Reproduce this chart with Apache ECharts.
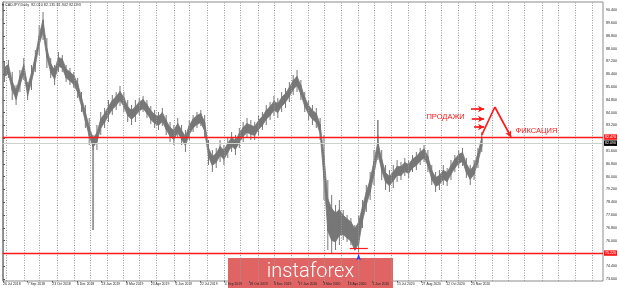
<!DOCTYPE html>
<html><head><meta charset="utf-8">
<script src="https://cdn.jsdelivr.net/npm/echarts@6/dist/echarts.min.js"></script>
<style>html,body{margin:0;padding:0;background:#fff}#c{width:620px;height:288px}</style>
</head><body><div id="c"></div>
<script>
// Typical daily high/low band of CADJPY around each week (week i = trading-day index 5i..5i+4)
const weekHigh = [86.82,87.00,85.95,85.39,86.26,87.00,85.63,86.48,87.51,88.82,
89.80,88.01,87.07,86.64,87.45,87.35,86.73,86.54,86.32,85.82,
84.95,84.04,83.10,82.41,82.73,83.60,83.95,84.38,84.76,85.01,
85.32,84.95,84.38,84.14,84.38,84.66,84.82,84.51,84.13,83.88,
83.76,84.01,83.51,83.07,82.89,83.32,82.89,82.51,83.20,83.60,
83.82,83.94,83.41,81.79,81.26,81.45,81.88,81.64,82.07,82.45,
82.26,82.70,83.07,83.32,83.20,83.13,83.51,83.76,84.14,84.38,
84.70,84.57,84.95,85.20,85.57,86.01,86.26,85.70,84.95,84.45,
84.14,83.95,83.26,81.27,78.60,78.01,77.72,77.94,77.58,77.36,
77.17,76.75,77.15,78.12,79.04,79.82,80.97,82.17,81.08,80.25,
80.01,80.29,80.63,80.63,80.88,80.76,81.10,81.26,81.54,81.73,
81.26,80.39,79.95,80.07,80.39,80.26,80.70,81.10,81.38,81.51,
80.82,80.39,80.70,81.45,82.45];
const weekLow = [86.26,86.45,85.39,84.83,85.70,86.45,85.07,85.92,86.95,88.26,
89.03,87.45,86.51,86.08,86.89,86.79,86.17,85.98,85.76,85.26,
84.39,83.48,82.54,81.85,82.17,83.04,83.39,83.82,84.20,84.45,
84.76,84.39,83.82,83.58,83.82,84.10,84.26,83.95,83.57,83.32,
83.20,83.45,82.95,82.51,82.33,82.76,82.33,81.95,82.64,83.04,
83.26,83.38,82.85,81.23,80.70,80.89,81.32,81.08,81.51,81.89,
81.70,82.14,82.51,82.76,82.64,82.57,82.95,83.20,83.58,83.82,
84.14,84.01,84.39,84.64,85.01,85.45,85.70,85.14,84.39,83.89,
83.58,83.39,82.70,79.87,76.60,76.01,75.92,76.34,76.38,76.16,
75.97,75.40,75.80,77.22,78.24,79.02,80.17,81.47,80.38,79.65,
79.44,79.73,80.07,80.07,80.32,80.20,80.54,80.70,80.98,81.17,
80.70,79.83,79.39,79.51,79.83,79.70,80.14,80.54,80.82,80.95,
80.26,79.83,80.14,80.89,81.89];
// Weekly extreme high / low (wick envelope)
const weekMax = [87.16,87.29,86.54,85.73,86.66,87.41,85.91,86.98,87.91,89.48,
90.29,88.66,87.41,86.98,87.79,87.60,86.98,86.79,86.54,86.16,
85.29,84.48,83.66,82.60,83.23,84.04,84.29,84.79,85.10,85.29,
85.66,85.29,84.79,84.48,84.79,84.91,85.04,84.79,84.41,84.16,
84.04,84.29,83.85,83.41,83.23,83.66,83.23,82.91,83.54,83.85,
84.04,84.16,83.85,82.29,81.66,81.79,82.29,81.98,82.41,82.79,
82.60,83.04,83.41,83.66,83.54,83.41,83.85,84.04,84.48,84.66,
85.04,84.91,85.29,85.54,85.91,86.35,86.66,86.04,85.29,84.79,
84.48,84.29,83.66,82.60,79.79,78.85,78.23,78.54,77.91,77.60,
77.41,76.98,77.60,78.54,79.48,80.29,81.66,82.60,81.66,80.73,
80.41,80.73,81.04,80.91,81.16,81.04,81.35,81.54,81.79,81.98,
81.66,80.73,80.29,80.41,80.73,80.54,81.04,81.35,81.66,81.79,
81.16,80.73,81.04,81.79,82.79];
const weekMin = [85.91,86.16,84.79,84.48,85.29,86.04,84.79,85.41,86.54,87.60,
88.54,86.79,86.16,85.73,86.54,86.54,85.91,85.73,85.54,84.91,
84.04,83.04,81.98,81.66,81.66,82.60,83.04,83.41,83.85,84.16,
84.41,84.04,83.41,83.23,83.41,83.85,84.04,83.66,83.29,83.04,
82.91,83.16,82.60,82.16,81.98,82.41,81.98,81.54,82.29,82.79,
83.04,83.16,82.41,80.73,80.29,80.54,80.91,80.73,81.16,81.54,
81.35,81.79,82.16,82.41,82.29,82.29,82.60,82.91,83.23,83.54,
83.79,83.66,84.04,84.29,84.66,85.10,85.29,84.79,84.04,83.54,
83.23,83.04,82.29,78.54,75.41,75.16,75.41,75.73,76.04,75.91,
75.73,75.41,75.29,76.79,77.79,78.54,79.48,81.04,79.79,79.16,
79.04,79.29,79.66,79.79,80.04,79.91,80.29,80.41,80.73,80.91,
80.29,79.48,79.04,79.16,79.48,79.41,79.79,80.29,80.54,80.66,
79.91,79.48,79.79,80.54,81.54];
// single-day needles: [week, low, high]
const spikes = [[23, 76.66, 82.41], [97, 81.47, 83.54]];

const yTickValues = [73.6,74.4,75.2,76.0,76.8,77.6,78.4,79.2,80.0,80.8,81.6,82.4,
83.2,84.0,84.8,85.6,86.4,87.2,88.0,88.8,89.6,90.4];
const xTickIdx = [0,32,64,96,128,160,192,224,256,288,320,352,384,416,448,480,512,544,576,608];
const xTickLabels = ['26 Jul 2018','7 Sep 2018','23 Oct 2018','6 Dec 2018','23 Jan 2019','8 Mar 2019',
'23 Apr 2019','6 Jun 2019','22 Jul 2019','4 Sep 2019','18 Oct 2019','3 Dec 2019','17 Jan 2020',
'3 Mar 2020','16 Apr 2020','1 Jun 2020','15 Jul 2020','27 Aug 2020','12 Oct 2020','25 Nov 2020'];
const monthStarts = [4,27,47,70,92,113,136,156,177,199,222,242,265,287,308,331,352,374,397,417,
439,461,482,504,527,548,570,592,613,636,657,677,700,722,743,765];

const levelUpper = 82.475, levelLower = 75.225, lastPrice = 82.093;
const titleText = '\u25BE CADJPY,Daily  82.010 82.135 81.942 82.093';

const F = '"Liberation Sans", Arial, sans-serif';
const RED = '#ff1a1a';
const BAND = '#777777';
const chart = echarts.init(document.getElementById('c'), null, {renderer:'canvas'});

const bandData = weekHigh.map((h, i) => {
  const n = Math.min(i + 1, weekHigh.length - 1);
  return [5 * i + 2, weekLow[i], h, 5 * n + 2, weekLow[n], weekHigh[n]];
});
const wickData = weekMax.map((h, i) => [5 * i + 2, weekMin[i], h]);
const spikeData = spikes.map(s => [5 * s[0] + 2, s[1], s[2]]);

function vline(width) {
  return (params, api) => {
    const x = api.value(0);
    const p1 = api.coord([x, api.value(2)]), p2 = api.coord([x, api.value(1)]);
    return {type:'rect', shape:{x:p1[0] - width / 2, y:p1[1], width:width, height:p2[1] - p1[1]}, style:{fill:BAND}};
  };
}

function boxLabel(bg) {
  return {show:true, position:'end', distance:1, formatter: p => Number(p.value).toFixed(3),
    backgroundColor:bg, color:'#fff', fontSize:3.6, padding:[1,1,0.5,1], fontFamily:F};
}

chart.setOption({
  animation:false,
  textStyle:{fontFamily:F},
  grid:{left:0, right:15, top:2, bottom:7, show:true, borderColor:'#8c8c8c', borderWidth:1, backgroundColor:'#fff'},
  xAxis:{type:'value', min:-0.5, max:779.5,
    axisLine:{show:false}, splitLine:{show:false},
    axisTick:{show:true, customValues:xTickIdx, length:1.5, lineStyle:{color:'#555'}},
    axisLabel:{customValues:xTickIdx, formatter: v => { const k = xTickIdx.indexOf(v); return k >= 0 ? xTickLabels[k] : ''; },
      align:'left', fontSize:3.4, color:'#222', margin:1.5, fontFamily:F}},
  yAxis:{type:'value', position:'right', min:73.475, max:90.9125,
    axisLine:{show:true, lineStyle:{color:'#8c8c8c'}}, splitLine:{show:false},
    axisTick:{show:true, customValues:yTickValues, length:2, lineStyle:{color:'#555'}},
    axisLabel:{customValues:yTickValues, formatter: v => v.toFixed(3), fontSize:3.6, color:'#222', margin:3, fontFamily:F}},
  series:[
    {type:'line', data:[], z:1, silent:true,
      markLine:{silent:true, symbol:'none', animation:false, label:{show:false},
        lineStyle:{color:'#9a9a9a', type:[1,1.5], width:1},
        data: monthStarts.map(m => ({xAxis:m}))}},
    {type:'custom', z:3, silent:true, data:bandData,
      renderItem:(params, api) => {
        const a = api.coord([api.value(0), api.value(2)]);
        const b = api.coord([api.value(3), api.value(5)]);
        const c = api.coord([api.value(3), api.value(4)]);
        const d = api.coord([api.value(0), api.value(1)]);
        return {type:'polygon', shape:{points:[a, b, c, d]},
          style:{fill:BAND, stroke:BAND, lineWidth:0.8}};
      }},
    {type:'custom', z:3, silent:true, data:wickData, renderItem:vline(1)},
    {type:'custom', z:3, silent:true, data:spikeData, renderItem:vline(1.4)},
    {type:'line', data:[], z:5, silent:true,
      markLine:{silent:true, symbol:'none', animation:false,
        data:[
          {yAxis:lastPrice, lineStyle:{color:'#cfcfcf', width:1, type:'solid'}, label:boxLabel('#000')},
          {yAxis:levelUpper, lineStyle:{color:RED, width:1.3, type:'solid'}, label:boxLabel(RED)},
          {yAxis:levelLower, lineStyle:{color:RED, width:1.3, type:'solid'}, label:boxLabel(RED)}
        ]}},
    {type:'line', data:[], z:6, silent:true,
      markLine:{silent:true, animation:false, symbol:['none','arrow'], symbolSize:[5,6],
        label:{show:false}, lineStyle:{color:RED, width:1.7, type:'solid'},
        data:[
          [{coord:[608,84.225]},{coord:[625,84.225]}],
          [{coord:[609,83.6]},{coord:[625,83.6]}],
          [{coord:[612,83.1]},{coord:[625,83.1]}],
          [{coord:[622,82.6], symbol:'none'},{coord:[639,84.35], symbol:'none'}],
          [{coord:[639,84.35], symbol:'none'},{coord:[660,82.475]}],
          [{coord:[450.5,75.54], symbol:'none', lineStyle:{width:1.2}},{coord:[474,75.54], symbol:'none'}]
        ]},
      markPoint:{silent:true, animation:false,
        data:[
          {name:'ПРОДАЖИ', coord:[575,83.725], symbol:'circle', symbolSize:0,
            label:{show:true, position:'inside', formatter: p => p.name, color:RED, fontSize:7.5, fontFamily:F}},
          {name:'ФИКСАЦИЯ', coord:[693,82.85], symbol:'circle', symbolSize:0,
            label:{show:true, position:'inside', formatter: p => p.name, color:RED, fontSize:7.5, fontFamily:F}},
          {name:'', coord:[462,75.2], symbol:'arrow', symbolSize:[3.5,7], itemStyle:{color:'#2a3cff'}, label:{show:false}}
        ]}}
  ],
  graphic:[
    {type:'text', left:2, top:2.5, z:10, silent:true,
      style:{text:titleText, font:'3.8px ' + F, fill:'#333'}},
    {type:'group', z:20, silent:true, children:[
      {type:'rect', shape:{x:228, y:258, width:165, height:30}, style:{fill:'#e06464'}},
      {type:'text', x:310.5, y:272, style:{text:'instaforex', font:'300 20px Roboto, "Open Sans", sans-serif', fill:'#fff', textAlign:'center', textVerticalAlign:'middle'}}
    ]}
  ]
});
</script>
</body></html>
